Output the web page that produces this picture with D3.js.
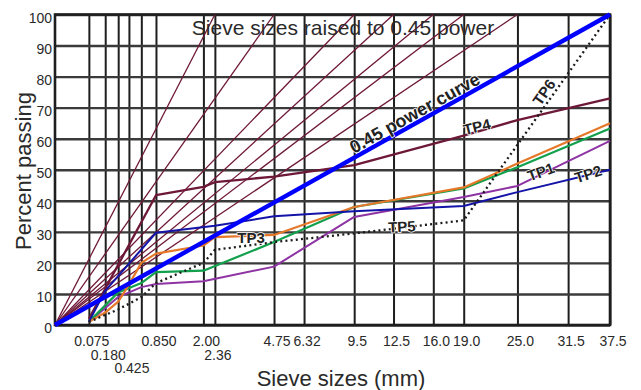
<!DOCTYPE html>
<html><head><meta charset="utf-8">
<script src="https://cdn.jsdelivr.net/npm/d3@7"></script>
<style>
body{margin:0;background:#fff;}
svg{display:block;font-family:"Liberation Sans",Arial,Helvetica,sans-serif;}
</style>
</head><body>
<svg id="chart" width="641" height="390"></svg>
<script>
// ---------- data ----------
const gridSizes = [0.075, 0.18, 0.3, 0.425, 0.6, 0.85, 2.0, 2.36, 4.75, 6.32, 9.5, 12.5, 16.0, 19.0, 25.0, 31.5, 37.5];
const tickSizes = [0.075, 0.18, 0.425, 0.85, 2.0, 2.36, 4.75, 6.32, 9.5, 12.5, 16.0, 19.0, 25.0, 31.5, 37.5];
const tickLabels = ["0.075", "0.180", "0.425", "0.850", "2.00", "2.36", "4.75", "6.32", "9.5", "12.5", "16.0", "19.0", "25.0", "31.5", "37.5"];
const percentTicks = [0, 10, 20, 30, 40, 50, 60, 70, 80, 90, 100];

// maximum-density lines from the origin to 100 % at each size
const fanMaxSizes = [2.36, 4.75, 9.5, 12.5, 16.0, 19.0, 25.0];

// 0.45 power curve (nominal max size 37.5 mm)
const powerSizes = [0, 37.5];
const powerValues = [0, 100];

// test-pit gradations
const tp4Sizes = [0.075, 0.85, 2.0, 2.36, 4.75, 9.5, 19.0, 25.0, 37.5];
const tp4Values = [2, 41.8, 44.5, 46, 47.8, 51.5, 61, 66, 73];

const navySizes = [0.075, 0.18, 0.85, 2.36, 4.75, 9.5, 19.0, 25.0, 37.5];
const navyValues = [1, 11, 29.7, 32, 35, 36.6, 38.3, 42.8, 50];

const orangeSizes = [0.075, 0.18, 0.3, 0.425, 0.6, 0.85, 2.0, 2.36, 4.75, 9.5, 19.0, 25.0, 37.5];
const orangeValues = [1, 4, 7.5, 13, 20, 23, 25.6, 28.3, 29, 38, 44.3, 52, 65];

const greenSizes = [0.075, 0.3, 0.6, 0.85, 2.0, 4.75, 9.5, 19.0, 25.0, 37.5];
const greenValues = [1, 10.5, 13.5, 17, 17.5, 26.7, 38, 44, 50.8, 63.3];

const purpleSizes = [0.075, 0.3, 0.6, 0.85, 2.0, 4.75, 9.5, 19.0, 25.0, 37.5];
const purpleValues = [1, 9, 12.2, 13.2, 14.1, 18.8, 34.8, 41.2, 44.8, 59.3];

const dottedSizes = [0.075, 0.3, 0.6, 0.85, 2.0, 2.36, 4.75, 9.5, 19.0, 37.5];
const dottedValues = [1, 5, 9, 13.5, 20, 24.2, 26.7, 29.5, 33.7, 100];

// ---------- layout ----------
const svg = d3.select("#chart");
const pLeft = 55, pRight = 610, pTop = 14.5, pBottom = 325;
const x = d3.scalePow().exponent(0.45).domain([0, 37.5]).range([pLeft, pRight]);
const y = d3.scaleLinear().domain([0, 100]).range([pBottom, pTop]);
const zip = (xs, ys) => xs.map((s, i) => [s, ys[i]]);
const line = d3.line().x(d => x(d[0])).y(d => y(d[1]));

// gridlines via axes
const gx = svg.append("g").attr("transform", `translate(0,${pBottom})`)
  .call(d3.axisBottom(x).tickValues(gridSizes).tickSize(-(pBottom - pTop)).tickFormat(""));
gx.select(".domain").remove();
gx.selectAll("line").attr("stroke", "#1e1e1e").attr("stroke-width", 2);

const gy = svg.append("g").attr("transform", `translate(${pLeft},0)`)
  .call(d3.axisLeft(y).tickValues(percentTicks).tickSize(-(pRight - pLeft)).tickPadding(3));
gy.select(".domain").remove();
gy.selectAll("line").attr("stroke", "#3a3a3a").attr("stroke-width", 2.4);
gy.selectAll("text").attr("font-size", 14).attr("fill", "#2a2a2a").attr("dy", "0.55em")
  .style("font-family", "'Liberation Sans',Arial,sans-serif");

// frame
svg.append("rect").attr("x", pLeft).attr("y", pTop).attr("width", pRight - pLeft).attr("height", pBottom - pTop)
  .attr("fill", "none").attr("stroke", "#1e1e1e").attr("stroke-width", 2.6);

// x tick labels (staggered rows)
const rowOf = {"0.180": 1, "2.36": 1, "0.425": 2};
const rowY = [345.5, 359.5, 372.5];
svg.append("g").selectAll("text").data(tickSizes).join("text")
  .attr("x", d => x(d) + 3)
  .attr("y", (d, i) => rowY[rowOf[tickLabels[i]] || 0])
  .attr("text-anchor", "middle").attr("font-size", 14).attr("fill", "#2a2a2a")
  .text((d, i) => tickLabels[i]);

// fan lines
const fan = svg.append("g");
fanMaxSizes.forEach(s => {
  fan.append("path").datum([[0, 0], [s, 100]]).attr("d", line)
    .attr("fill", "none").attr("stroke", "#6e1838").attr("stroke-width", 1.3);
});

// gradation curves
const series = [
  {pts: zip(tp4Sizes, tp4Values), color: "#6e1838", w: 2.3},
  {pts: zip(purpleSizes, purpleValues), color: "#8e33a3", w: 2},
  {pts: zip(greenSizes, greenValues), color: "#12a04c", w: 2.2},
  {pts: zip(orangeSizes, orangeValues), color: "#e6782a", w: 2.2},
  {pts: zip(navySizes, navyValues), color: "#1414a8", w: 2},
  {pts: zip(dottedSizes, dottedValues), color: "#1a1a1a", w: 2.3, dash: "2,3.2"}
];
series.forEach(sr => {
  svg.append("path").datum(sr.pts).attr("d", line)
    .attr("fill", "none").attr("stroke", sr.color).attr("stroke-width", sr.w)
    .attr("stroke-dasharray", sr.dash || null).attr("stroke-linejoin", "round");
});

// 0.45 power curve
svg.append("path").datum(zip(powerSizes, powerValues)).attr("d", line)
  .attr("fill", "none").attr("stroke", "#0000ff").attr("stroke-width", 4.4);

// annotations
const notes = [
  {t: "0.45 power curve", s: 14.3, v: 68.3, a: -29.2, f: 18},
  {t: "TP4", s: 20.4, v: 63.8, a: -14, f: 15},
  {t: "TP6", s: 28.3, v: 75.0, a: -55, f: 15},
  {t: "TP1", s: 27.9, v: 49.3, a: -20, f: 15},
  {t: "TP2", s: 34.3, v: 48.6, a: -18, f: 15},
  {t: "TP5", s: 13.2, v: 31.6, a: -3, f: 15},
  {t: "TP3", s: 3.71, v: 28.0, a: 0, f: 15}
];
svg.append("g").selectAll("text").data(notes).join("text")
  .attr("transform", d => `translate(${x(d.s)},${y(d.v)}) rotate(${d.a})`)
  .attr("text-anchor", "middle").attr("dy", "0.35em")
  .attr("font-size", d => d.f).attr("font-weight", "bold").attr("fill", "#222")
  .attr("stroke", "#fff").attr("stroke-width", 1.5).attr("paint-order", "stroke")
  .text(d => d.t);

// titles
svg.append("text").attr("x", 343).attr("y", 35).attr("text-anchor", "middle")
  .attr("font-size", 21).attr("fill", "#2a2a2a").text("Sieve sizes raised to 0.45 power");
svg.append("text").attr("x", 341).attr("y", 386).attr("text-anchor", "middle")
  .attr("font-size", 22).attr("fill", "#2a2a2a").text("Sieve sizes (mm)");
svg.append("text").attr("transform", "translate(31,171) rotate(-90)").attr("text-anchor", "middle")
  .attr("font-size", 22).attr("fill", "#2a2a2a").text("Percent passing");
</script>
</body></html>
